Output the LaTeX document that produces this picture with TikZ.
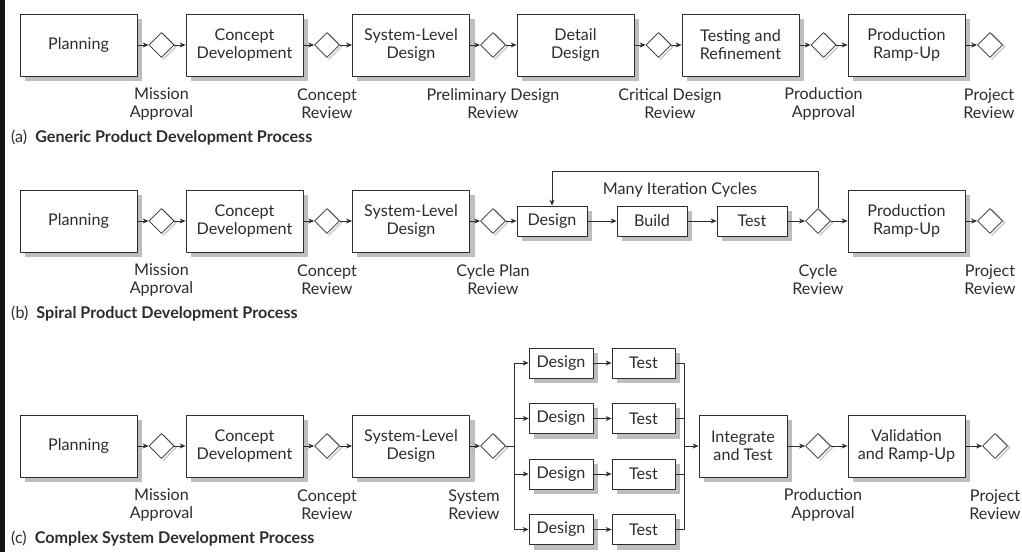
\documentclass[tikz,border=0pt]{standalone}
\usepackage{fontspec}
\setmainfont{Lato}
\usetikzlibrary{shapes.geometric,arrows.meta}
\definecolor{shadegray}{RGB}{190,190,190}
\definecolor{gategray}{RGB}{205,205,205}
\definecolor{inkgray}{RGB}{45,45,45}
\pgfdeclarelayer{paper}
\pgfdeclarelayer{shadelayer}
\pgfsetlayers{paper,shadelayer,main}
\begin{document}
\begin{tikzpicture}[x=1bp, y=-1bp, line join=round, >={Stealth[length=6bp,width=5bp]},
	font=\fontsize{16.2}{18}\selectfont, text=inkgray,
	box/.style={draw=inkgray, line width=0.8bp, fill=white, minimum width=117bp, minimum height=62bp,
		align=center, inner sep=0pt},
	sbox/.style={box, minimum width=70bp, minimum height=30bp},
	gate/.style={diamond, draw=inkgray, line width=0.8bp, fill=white, minimum width=25bp, minimum height=25bp,
		inner sep=0pt},
	boxshade/.style={draw=shadegray, line width=5bp, line cap=butt, line join=miter},
	gateshade/.style={draw=gategray, line width=1.6bp, line cap=butt},
	lbl/.style={align=center},
	ttl/.style={anchor=west, inner sep=0pt},
	link/.style={draw=inkgray, line width=0.8bp}]
	\begin{pgfonlayer}{paper}
		\fill[white] (0,0) rectangle (1022,552);
		\fill[black!92] (0,0) rectangle (5,552);
	\end{pgfonlayer}
	\useasboundingbox (0,0) rectangle (1022,552);
	% (a) generic process
	\path
	(78.5,45) node[box] (pa1) {Planning}
	(244.5,45) node[box] (pa2) {Concept\\Development}
	(411,45) node[box] (pa3) {System-Level\\Design}
	(575.5,45) node[box] (pa4) {Detail\\Design}
	(740.5,45) node[box] (pa5) {Testing and\\Refinement}
	(906.5,45) node[box] (pa6) {Production\\Ramp-Up}
	(161.5,45) node[gate] (ga1) {}
	(327,45) node[gate] (ga2) {}
	(493,45) node[gate] (ga3) {}
	(658.5,45) node[gate] (ga4) {}
	(823.5,45) node[gate] (ga5) {}
	(990,45) node[gate] (ga6) {}
	;
	\foreach \p/\g/\n in {pa1/ga1/pa2,pa2/ga2/pa3,pa3/ga3/pa4,pa4/ga4/pa5,pa5/ga5/pa6}{
		\draw[link,->] (\p)--(\g);
		\draw[link,->] (\g)--(\n);
	}
	\draw[link,->] (pa6)--(ga6);
	\foreach \g/\x/\t in {la1/161.5/Mission\\Approval,la2/327/Concept\\Review,la3/493/Preliminary Design\\Review,
		la4/670/Critical Design\\Review,la5/823.5/Production\\Approval,la6/989/Project\\Review}{
		\node[lbl] (\g) at (\x,104) {\t};
	}
	\node[ttl] (ta) at (11,138) {(a)\enspace\textbf{Generic Product Development Process}};
	% (b) spiral process
	\path
	(78.5,221) node[box] (pb1) {Planning}
	(244.5,221) node[box] (pb2) {Concept\\Development}
	(411,221) node[box] (pb3) {System-Level\\Design}
	(552,221) node[sbox] (sd) {Design}
	(652,221) node[sbox] (sb) {Build}
	(752,221) node[sbox] (st) {Test}
	(906.5,221) node[box] (pb4) {Production\\Ramp-Up}
	(161.5,221) node[gate] (gb1) {}
	(327,221) node[gate] (gb2) {}
	(493,221) node[gate] (gb3) {}
	(818,221) node[gate] (gb4) {}
	(990,221) node[gate] (gb5) {}
	;
	\foreach \a/\b in {pb1/gb1,gb1/pb2,pb2/gb2,gb2/pb3,pb3/gb3,gb3/sd,sd/sb,sb/st,st/gb4,gb4/pb4,pb4/gb5}{
		\draw[link,->] (\a)--(\b);
	}
	\draw[link,->] (gb4.north) -- ++(0,-37) -| (sd.north);
	\node (many) at (680,190) {Many Iteration Cycles};
	\foreach \g/\x/\t in {lb1/161.5/Mission\\Approval,lb2/327/Concept\\Review,lb3/493/Cycle Plan\\Review,
		lb4/818/Cycle\\Review,lb5/990/Project\\Review}{
		\node[lbl] (\g) at (\x,280) {\t};
	}
	\node[ttl] (tb) at (11,314) {(b)\enspace\textbf{Spiral Product Development Process}};
	% (c) complex system process
	\path
	(78.5,446) node[box] (pc1) {Planning}
	(244.5,446) node[box] (pc2) {Concept\\Development}
	(411,446) node[box] (pc3) {System-Level\\Design}
	(743,446) node[box, minimum width=88bp] (pc4) {Integrate\\and Test}
	(906.5,446) node[box] (pc5) {Validation\\and Ramp-Up}
	(161.5,446) node[gate] (gc1) {}
	(327,446) node[gate] (gc2) {}
	(493,446) node[gate] (gc3) {}
	(818,446) node[gate] (gc4) {}
	(995,446) node[gate] (gc5) {}
	(514,446) coordinate (split)
	(684,446) coordinate (join)
	;
	\foreach \i/\y in {1/363,2/418.5,3/474,4/529.5}{
		\node[sbox, minimum width=64bp] (d\i) at (561,\y) {Design};
		\node[sbox, minimum width=63bp] (t\i) at (643.5,\y) {Test};
		\draw[link,->] (split) |- (d\i);
		\draw[link,->] (d\i)--(t\i);
		\draw[link] (t\i) -| (join);
	}
	\foreach \a/\b in {pc1/gc1,gc1/pc2,pc2/gc2,gc2/pc3,pc3/gc3,pc4/gc4,gc4/pc5,pc5/gc5}{
		\draw[link,->] (\a)--(\b);
	}
	\draw[link] (gc3)--(split);
	\draw[link,->] (join)--(pc4);
	\foreach \g/\x/\t in {lc1/161.5/Mission\\Approval,lc2/327/Concept\\Review,lc3/474/System\\Review,
		lc4/823/Production\\Approval,lc5/995/Project\\Review}{
		\node[lbl] (\g) at (\x,505) {\t};
	}
	\node[ttl] (tc) at (11,539) {(c)\enspace\textbf{Complex System Development Process}};
	% shadows behind boxes and gates
	\begin{pgfonlayer}{shadelayer}
		\foreach \n in {pa1,pa2,pa3,pa4,pa5,pa6,pb1,pb2,pb3,pb4,sd,sb,st,pc1,pc2,pc3,pc4,pc5,d1,d2,d3,d4,t1,t2,t3,t4}{
			\draw[boxshade] ([xshift=5bp,yshift=-2.5bp]\n.south west) -- ([xshift=2.5bp,yshift=-2.5bp]\n.south east)
				-- ([xshift=2.5bp,yshift=-5bp]\n.north east);
		}
		\foreach \n in {ga1,ga2,ga3,ga4,ga5,ga6,gb1,gb2,gb3,gb4,gb5,gc1,gc2,gc3,gc4,gc5}{
			\draw[gateshade] ([xshift=1.5bp,yshift=-1.5bp]\n.north) -- ([xshift=1.5bp,yshift=-1.5bp]\n.east)
				-- ([xshift=1.5bp,yshift=-1.5bp]\n.south);
		}
	\end{pgfonlayer}
\end{tikzpicture}
\end{document}
